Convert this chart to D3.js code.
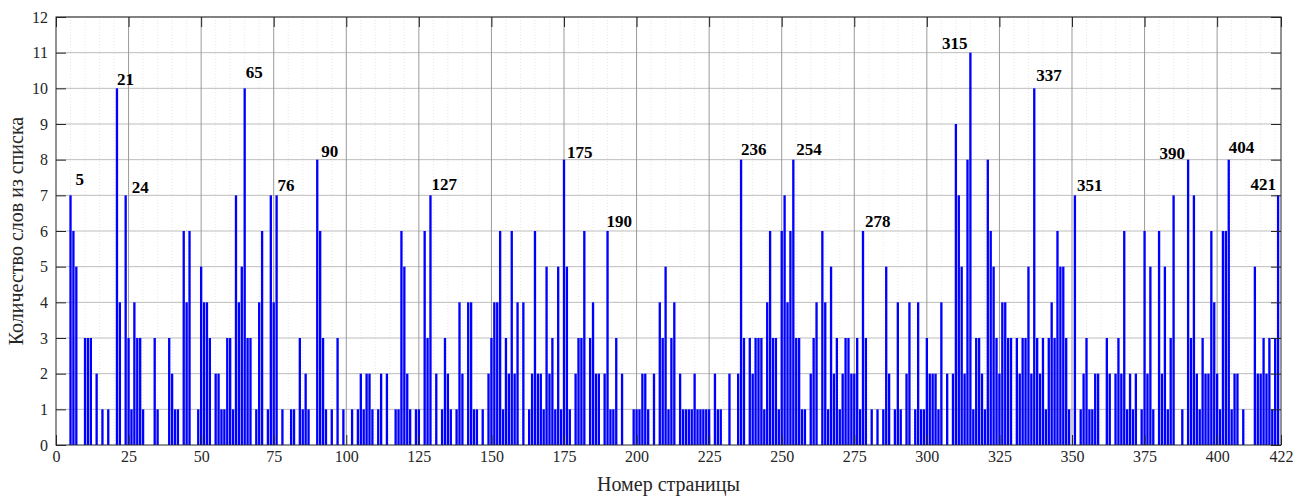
<!DOCTYPE html>
<html>
<head>
<meta charset="utf-8">
<script src="https://cdn.jsdelivr.net/npm/d3@7"></script>
<style>
  body { margin: 0; background: #fff; }
  svg text { font-family: "Liberation Serif", "Times New Roman", serif; }
</style>
</head>
<body>
<div id="chart"></div>
<script>
// words from the list found on each page, pages 1..422
const counts = [
  0, 0, 0, 0, 7, 6, 5, 0, 0, 3,   3, 3, 0, 2, 0, 1, 0, 1, 0, 0,
  10, 4, 0, 7, 3, 1, 4, 3, 3, 1,  0, 0, 0, 3, 1, 0, 0, 0, 3, 2,
  1, 1, 0, 6, 4, 6, 0, 0, 1, 5,   4, 4, 3, 0, 2, 2, 1, 1, 3, 3,
  1, 7, 4, 5, 10, 3, 3, 0, 1, 4,  6, 0, 1, 7, 4, 7, 0, 1, 0, 0,
  1, 1, 0, 3, 1, 2, 1, 0, 0, 8,   6, 3, 1, 0, 1, 0, 3, 0, 1, 0,
  0, 1, 0, 1, 2, 1, 2, 2, 1, 0,   1, 2, 0, 2, 0, 0, 1, 1, 6, 5,
  2, 1, 0, 1, 1, 0, 6, 3, 7, 0,   2, 0, 1, 3, 2, 1, 0, 1, 4, 2,
  0, 4, 4, 1, 1, 0, 1, 0, 2, 3,   4, 4, 6, 1, 3, 2, 6, 2, 4, 0,
  4, 0, 1, 2, 6, 2, 2, 1, 5, 2,   3, 1, 5, 1, 8, 5, 1, 0, 2, 3,
  3, 6, 0, 3, 4, 2, 2, 0, 2, 6,   1, 1, 3, 0, 2, 0, 0, 0, 1, 1,
  1, 2, 2, 1, 0, 2, 0, 4, 3, 5,   1, 3, 4, 0, 2, 1, 1, 1, 1, 2,
  1, 1, 1, 1, 1, 0, 2, 1, 1, 0,   0, 2, 0, 0, 2, 8, 3, 0, 3, 2,
  3, 3, 3, 1, 4, 6, 3, 3, 1, 6,   7, 4, 6, 8, 3, 3, 1, 1, 0, 2,
  3, 4, 0, 6, 4, 1, 5, 2, 3, 1,   2, 3, 3, 2, 2, 3, 1, 6, 3, 0,
  1, 0, 1, 0, 1, 5, 2, 0, 1, 4,   1, 0, 2, 4, 0, 1, 4, 1, 1, 3,
  2, 2, 2, 1, 4, 0, 2, 0, 2, 9,   7, 5, 2, 8, 11, 1, 3, 3, 2, 1,
  8, 6, 5, 3, 2, 4, 4, 3, 3, 0,   3, 2, 3, 3, 5, 2, 10, 3, 2, 3,
  1, 3, 4, 3, 6, 5, 5, 3, 1, 0,   7, 0, 1, 2, 3, 1, 1, 2, 2, 0,
  0, 3, 2, 0, 2, 3, 2, 6, 1, 2,   1, 2, 0, 1, 6, 2, 5, 1, 0, 6,
  2, 5, 1, 3, 7, 0, 0, 1, 0, 8,   3, 7, 2, 1, 3, 2, 2, 6, 4, 2,
  1, 6, 6, 8, 1, 2, 2, 0, 1, 0,   0, 0, 5, 2, 2, 3, 2, 3, 1, 3,
  7, 0
];
const pages = d3.range(1, counts.length + 1);

const xTicks = [0, 25, 50, 75, 100, 125, 150, 175, 200, 225, 250, 275, 300, 325, 350, 375, 400, 422];
const yTicks = d3.range(0, 13);

// annotated peaks: label text and the page whose bar carries it
const peakLabels = ['5', '21', '24', '65', '76', '90', '127', '175', '190', '236', '254', '278', '315', '337', '351', '390', '404', '421'];
const peakPages = [5, 21, 24, 65, 76, 90, 129, 175, 190, 236, 254, 278, 315, 337, 351, 390, 404, 421];
// label nudges [dx, dy, anchor]
const peakNudge = [
  [5, -10, 'start'], [0, -3, 'start'], [6, -2, 'start'], [1, -10, 'start'], [1, -4, 'start'],
  [4, -3, 'start'], [1, -5, 'start'], [3, -2, 'start'], [-1, -4, 'start'], [0, -5, 'start'],
  [3, -5, 'start'], [2, -4, 'start'], [-3, -4, 'end'], [2, -7, 'start'], [2, -4, 'start'],
  [-3, -1, 'end'], [0, -7, 'start'], [-2, -5, 'end']
];

const W = 1296, H = 497;
const margin = { top: 17, right: 15, bottom: 52, left: 56 };
const width = W - margin.left - margin.right;
const height = H - margin.top - margin.bottom;

const svg = d3.select('#chart').append('svg')
  .attr('width', W).attr('height', H);
const g = svg.append('g')
  .attr('transform', 'translate(' + margin.left + ',' + margin.top + ')');

const x = d3.scaleLinear().domain([0, 422]).range([0, width]);
const y = d3.scaleLinear().domain([0, 12]).range([height, 0]);

// grid
g.append('g').selectAll('line')
  .data(d3.range(5, 422, 5).filter(v => v % 25 !== 0))
  .enter().append('line')
  .attr('x1', d => x(d)).attr('x2', d => x(d))
  .attr('y1', 0).attr('y2', height)
  .attr('stroke', '#d8d8d8').attr('stroke-width', 0.6)
  .attr('stroke-dasharray', '1,2');

g.append('g').selectAll('line')
  .data(yTicks.slice(1))
  .enter().append('line')
  .attr('x1', 0).attr('x2', width)
  .attr('y1', d => y(d)).attr('y2', d => y(d))
  .attr('stroke', '#bdbdbd').attr('stroke-width', 1);

g.append('g').selectAll('line')
  .data(xTicks.slice(1, -1))
  .enter().append('line')
  .attr('x1', d => x(d)).attr('x2', d => x(d))
  .attr('y1', 0).attr('y2', height)
  .attr('stroke', '#9a9a9a').attr('stroke-width', 1);

// bars
const bw = (x(1) - x(0)) * 0.8;
g.append('g').selectAll('rect')
  .data(pages.filter((p, i) => counts[i] > 0))
  .enter().append('rect')
  .attr('x', p => x(p) - bw / 2)
  .attr('width', bw)
  .attr('y', p => y(counts[p - 1]))
  .attr('height', p => height - y(counts[p - 1]))
  .attr('fill', '#0000ff');

// axes (ticks inside, box around)
const xAxis = d3.axisBottom(x).tickValues(xTicks).tickSizeInner(-10).tickSizeOuter(0).tickPadding(6);
const yAxis = d3.axisLeft(y).tickValues(yTicks).tickSizeInner(-10).tickSizeOuter(0).tickPadding(8);

const gx = g.append('g').attr('transform', 'translate(0,' + height + ')').call(xAxis);
const gy = g.append('g').call(yAxis);
g.append('g').call(d3.axisRight(y).tickValues(yTicks).tickSizeInner(-10).tickSizeOuter(0).tickFormat(''))
  .attr('transform', 'translate(' + width + ',0)');
g.append('g').call(d3.axisTop(x).tickValues(xTicks).tickSizeInner(-10).tickSizeOuter(0).tickFormat(''));

g.selectAll('.domain').remove();
g.selectAll('.tick line').attr('stroke', '#262626');
[gx, gy].forEach(a => a.selectAll('text')
  .attr('font-size', 16).attr('fill', '#262626')
  .style('font-family', '"Liberation Serif", serif'));

g.append('rect')
  .attr('width', width).attr('height', height)
  .attr('fill', 'none').attr('stroke', '#262626').attr('stroke-width', 1);

// peak labels
g.append('g').selectAll('text')
  .data(peakLabels)
  .enter().append('text')
  .attr('x', (d, i) => x(peakPages[i]) + peakNudge[i][0])
  .attr('y', (d, i) => y(counts[peakPages[i] - 1]) + peakNudge[i][1])
  .attr('text-anchor', (d, i) => peakNudge[i][2])
  .attr('font-size', 17).attr('font-weight', 'bold')
  .text(d => d);

// axis titles
svg.append('text')
  .attr('x', margin.left + width / 2).attr('y', H - 6)
  .attr('text-anchor', 'middle').attr('font-size', 20).attr('fill', '#262626')
  .text('Номер страницы');

svg.append('text')
  .attr('transform', 'translate(23,' + (margin.top + height / 2) + ') rotate(-90)')
  .attr('text-anchor', 'middle').attr('font-size', 20).attr('fill', '#262626')
  .text('Количество слов из списка');
</script>
</body>
</html>
